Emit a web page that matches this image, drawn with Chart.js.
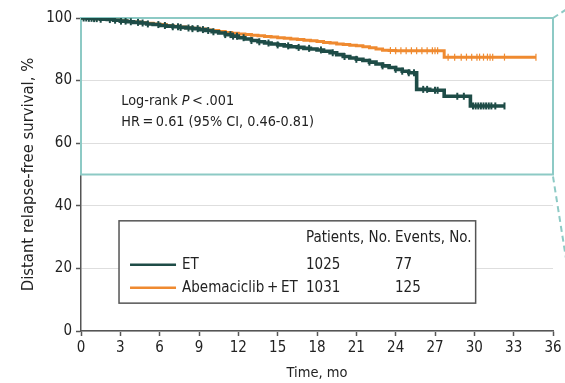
<!DOCTYPE html>
<html>
<head>
<meta charset="utf-8">
<script src="https://cdn.jsdelivr.net/npm/chart.js@4.4.0/dist/chart.umd.min.js"></script>
<style>
  body { margin: 0; background: #fff; }
  #wrap { width: 565px; height: 383px; }
</style>
</head>
<body>
<div id="wrap"><canvas id="chart" width="565" height="383"></canvas></div>
<script>
const FONT = "'Liberation Sans Narrow', 'DejaVu Sans Condensed', Lato, sans-serif";
const TEXT = "#222";
const AXIS = "#555";
const TEAL = "#8dcac5";

// Kaplan-Meier steps: month, survival %
const etMonths = [0, 0.5, 1, 1.5, 2, 2.5, 3, 3.5, 4, 4.5, 5, 5.5, 6, 6.5, 7, 7.5, 8, 8.5, 9, 9.5, 10, 10.5, 11, 11.5, 12, 12.5, 13, 13.5, 14, 14.5, 15, 15.5, 16, 16.5, 17, 17.5, 18, 18.5, 19, 19.5, 20, 20.5, 21, 21.5, 22, 22.5, 23, 23.5, 24, 24.5, 25, 25.6, 26.6, 27.7, 29.7, 32.3];
const etSurvival = [100, 99.9, 99.8, 99.6, 99.5, 99.3, 99.0, 98.8, 98.6, 98.4, 98.1, 97.9, 97.6, 97.4, 97.2, 97.0, 96.8, 96.6, 96.3, 96.0, 95.6, 95.2, 94.7, 94.2, 93.7, 93.3, 92.8, 92.4, 92.0, 91.7, 91.4, 91.1, 90.8, 90.6, 90.3, 90.1, 89.8, 89.4, 88.9, 88.3, 87.7, 87.2, 86.8, 86.4, 85.9, 85.3, 84.7, 84.2, 83.6, 83.0, 82.5, 77.2, 76.9, 75.0, 71.9, 71.9];
const abemaMonths = [0, 0.5, 1, 1.5, 2, 2.5, 3, 3.5, 4, 4.5, 5, 5.5, 6, 6.5, 7, 7.5, 8, 8.5, 9, 9.5, 10, 10.5, 11, 11.5, 12, 12.5, 13, 13.5, 14, 14.5, 15, 15.5, 16, 16.5, 17, 17.5, 18, 18.5, 19, 19.5, 20, 20.5, 21, 21.5, 22, 22.5, 23, 23.5, 24, 27.7, 34.7];
const abemaSurvival = [100, 99.9, 99.8, 99.7, 99.5, 99.3, 99.1, 98.9, 98.7, 98.5, 98.3, 98.1, 97.9, 97.6, 97.4, 97.1, 96.9, 96.7, 96.5, 96.2, 96.0, 95.7, 95.4, 95.1, 94.9, 94.7, 94.5, 94.3, 94.1, 93.9, 93.7, 93.5, 93.3, 93.1, 92.9, 92.7, 92.5, 92.2, 92.0, 91.7, 91.5, 91.3, 91.1, 90.8, 90.5, 90.1, 89.7, 89.6, 89.5, 87.5, 87.5];

// censored observations, months
const etCensored = [0.2, 0.4, 0.6, 0.8, 1.0, 1.2, 1.5, 2.2, 2.6, 3.05, 3.4, 3.8, 4.35, 4.7, 5.1, 5.9, 6.4, 7.0, 7.4, 7.6, 8.2, 8.5, 8.9, 9.3, 9.7, 10.1, 11.0, 11.4, 11.6, 11.9, 12.4, 13.0, 13.6, 14.3, 15.0, 15.8, 16.6, 17.4, 18.3, 19.2, 20.1, 21.0, 22.0, 23.0, 24.0, 24.5, 25.0, 25.4, 26.1, 26.4, 27.0, 27.2, 28.7, 29.2, 29.9, 30.1, 30.3, 30.5, 30.7, 30.9, 31.1, 31.3, 31.6, 32.3];
const abemaCensored = [23.6, 24.0, 24.4, 24.8, 25.2, 25.6, 26.0, 26.4, 26.8, 27.0, 27.2, 28.0, 28.5, 29.0, 29.4, 29.8, 30.2, 30.4, 30.7, 31.0, 31.2, 31.4, 32.3, 34.7];

const groupNames = ["ET", "Abemaciclib\u2009+\u2009ET"];
const patients = [1025, 1031];
const events = [77, 125];
const tableHeads = ["Patients, No.", "Events, No."];
const xTicks = [0, 3, 6, 9, 12, 15, 18, 21, 24, 27, 30, 33, 36];
const yTicks = [0, 20, 40, 60, 80, 100];

const GREEN = "#1e4c47";
const ORANGE = "#ef8a30";

function toPoints(xs, ys) {
  return xs.map((x, i) => ({ x: x, y: ys[i] }));
}

// survival value of a step curve at time t
function stepAt(xs, ys, t) {
  let v = ys[0];
  for (let i = 0; i < xs.length; i++) {
    if (xs[i] <= t) v = ys[i];
  }
  return v;
}

function censorPoints(times, xs, ys) {
  return times.map((t) => ({ x: t, y: stepAt(xs, ys, t) }));
}

function font(size, style) {
  return (style || "") + " " + size + "px " + FONT;
}

const overlays = {
  id: "overlays",
  beforeDatasetsDraw(chart) {
    const { ctx, scales } = chart;
    const x = scales.x, y = scales.y;
    const l = x.getPixelForValue(0), r = x.getPixelForValue(36);
    const t = y.getPixelForValue(100), b = y.getPixelForValue(50);
    ctx.save();
    // zoom frame over the upper half
    ctx.strokeStyle = TEAL;
    ctx.lineWidth = 2;
    ctx.strokeRect(l, t, r - l, b - t);
    ctx.setLineDash([6, 4]);
    ctx.beginPath();
    ctx.moveTo(r, t);
    ctx.lineTo(r + 14, t - 9);
    ctx.moveTo(r, b + 2);
    ctx.lineTo(r + 13, b + 84);
    ctx.stroke();
    ctx.restore();
  },
  afterDatasetsDraw(chart) {
    const { ctx, scales } = chart;
    const x = scales.x, y = scales.y;
    ctx.save();
    ctx.fillStyle = TEXT;
    ctx.textBaseline = "middle";
    ctx.textAlign = "left";

    // test statistics
    let tx = x.getPixelForValue(3) + 1;
    let ty = y.getPixelForValue(73.5);
    const parts = [["Log-rank ", ""], ["P", "italic"], ["\u2009<\u2009.001", ""]];
    parts.forEach(([s, st]) => {
      ctx.font = font(14.3, st);
      ctx.fillText(s, tx, ty);
      tx += ctx.measureText(s).width;
    });
    ctx.font = font(14.3);
    ctx.fillText("HR\u2009=\u20090.61 (95% CI, 0.46-0.81)", x.getPixelForValue(3) + 1, y.getPixelForValue(66.8));

    // legend table
    const bl = x.getPixelForValue(2.9), br = x.getPixelForValue(30.1);
    const bt = y.getPixelForValue(35.2), bb = y.getPixelForValue(8.9);
    ctx.fillStyle = "#fff";
    ctx.fillRect(bl, bt, br - bl, bb - bt);
    ctx.strokeStyle = AXIS;
    ctx.lineWidth = 1.5;
    ctx.strokeRect(bl, bt, br - bl, bb - bt);

    const colP = bl + 187, colE = bl + 276;
    ctx.fillStyle = TEXT;
    ctx.font = font(15);
    ctx.fillText(tableHeads[0], colP, bt + 17);
    ctx.fillText(tableHeads[1], colE, bt + 17);
    const colors = [GREEN, ORANGE];
    groupNames.forEach((name, i) => {
      const ry = bt + 44 + i * 23;
      ctx.strokeStyle = colors[i];
      ctx.lineWidth = 2.5;
      ctx.beginPath();
      ctx.moveTo(bl + 11, ry);
      ctx.lineTo(bl + 57, ry);
      ctx.stroke();
      ctx.fillText(name, bl + 63, ry);
      ctx.fillText(String(patients[i]), colP, ry);
      ctx.fillText(String(events[i]), colE, ry);
    });
    ctx.restore();
  },
};

new Chart("chart", {
  type: "scatter",
  data: {
    datasets: [
      {
        label: "ET",
        data: toPoints(etMonths, etSurvival),
        showLine: true,
        stepped: true,
        borderColor: GREEN,
        borderWidth: 3.6,
        pointRadius: 0,
        order: 1,
      },
      {
        label: "ET censored",
        data: censorPoints(etCensored, etMonths, etSurvival),
        pointStyle: "line",
        rotation: 90,
        pointRadius: 3.5,
        borderColor: GREEN,
        borderWidth: 2,
        order: 0,
      },
      {
        label: "Abemaciclib + ET",
        data: toPoints(abemaMonths, abemaSurvival),
        showLine: true,
        stepped: true,
        borderColor: ORANGE,
        borderWidth: 3,
        pointRadius: 0,
        order: 3,
      },
      {
        label: "Abemaciclib + ET censored",
        data: censorPoints(abemaCensored, abemaMonths, abemaSurvival),
        pointStyle: "line",
        rotation: 90,
        pointRadius: 3.5,
        borderColor: ORANGE,
        borderWidth: 1.2,
        order: 2,
      },
    ],
  },
  options: {
    responsive: false,
    animation: false,
    layout: { padding: { top: 18, right: 12, left: 0, bottom: 0 } },
    plugins: { legend: { display: false }, tooltip: { enabled: false } },
    scales: {
      x: {
        type: "linear",
        min: 0,
        max: 36,
        afterBuildTicks: (s) => { s.ticks = xTicks.map((v) => ({ value: v })); },
        afterFit: (s) => { s.height = 52; },
        grid: { drawOnChartArea: false, tickLength: 5, tickColor: AXIS, tickWidth: 1.5 },
        border: { color: AXIS, width: 1.5 },
        ticks: { padding: 3, maxRotation: 0, autoSkip: false, color: TEXT, font: { family: FONT, size: 15 } },
        title: { display: true, text: "Time, mo", color: TEXT, font: { family: FONT, size: 14.5 }, padding: { top: 0, bottom: 1 } },
      },
      y: {
        min: 0,
        max: 100,
        afterBuildTicks: (s) => { s.ticks = yTicks.map((v) => ({ value: v })); },
        afterFit: (s) => { s.width = 81; },
        grid: { color: "#dedede", lineWidth: 1, tickLength: 5, tickColor: AXIS, tickWidth: 1.5 },
        border: { color: AXIS, width: 1.5 },
        ticks: { padding: 4, color: TEXT, font: { family: FONT, size: 15 } },
        title: { display: true, text: "Distant relapse-free survival, %", color: TEXT, font: { family: FONT, size: 16.5 }, padding: { top: 19, bottom: 0 } },
      },
    },
  },
  plugins: [overlays],
});
</script>
</body>
</html>
